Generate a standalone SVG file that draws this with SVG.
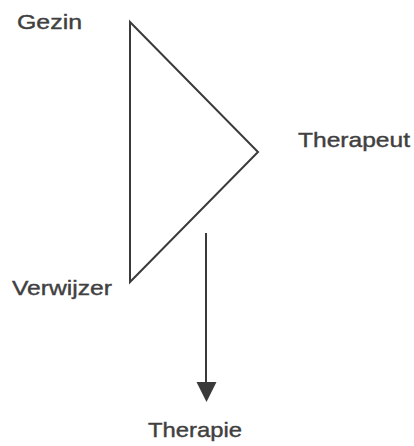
<svg xmlns="http://www.w3.org/2000/svg" width="414" height="446" viewBox="0 0 414 446">
  <style>
    .label { font-family: "Liberation Sans", Arial, sans-serif; font-size: 21px; fill: #404040; stroke: #404040; stroke-width: 0.4; }
    .edge { fill: none; stroke: #3a3a3a; stroke-width: 2; stroke-linejoin: miter; }
  </style>
  <rect width="414" height="446" fill="#ffffff"/>

  <g id="connectors">
    <!-- triangle linking the three parties -->
    <path class="edge" d="M130,22 L258,152 L130,282 Z"/>
    <!-- outcome arrow -->
    <line class="edge" x1="206" y1="233" x2="206" y2="385"/>
    <polygon points="196.5,382 216.5,382 206.5,402" fill="#3a3a3a"/>
  </g>

  <g id="node-gezin">
    <text class="label" x="17" y="29" textLength="65" lengthAdjust="spacingAndGlyphs">Gezin</text>
  </g>
  <g id="node-therapeut">
    <text class="label" x="298" y="147" textLength="112" lengthAdjust="spacingAndGlyphs">Therapeut</text>
  </g>
  <g id="node-verwijzer">
    <text class="label" x="12" y="295" textLength="100" lengthAdjust="spacingAndGlyphs">Verwijzer</text>
  </g>
  <g id="node-therapie">
    <text class="label" x="148" y="437" textLength="94" lengthAdjust="spacingAndGlyphs">Therapie</text>
  </g>
</svg>
